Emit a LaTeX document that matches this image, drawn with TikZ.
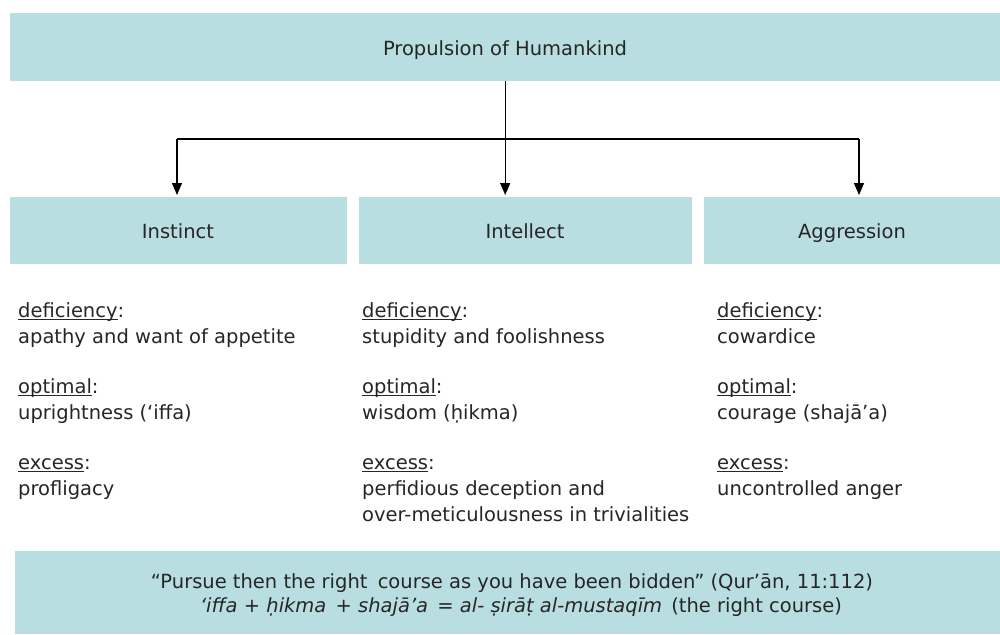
\documentclass[tikz,border=0pt]{standalone}
\usepackage{fontspec}
\setmainfont{DejaVu Sans}
\newcommand{\myul}[1]{\leavevmode\setbox0\hbox{#1}\rlap{\rule[-2.8pt]{\wd0}{1pt}}\box0}
\usetikzlibrary{arrows.meta}
\definecolor{boxc}{RGB}{184,222,225}
\definecolor{txtc}{RGB}{38,38,38}
\begin{document}
\begin{tikzpicture}[x=1pt,y=-1pt,
  panel/.style={fill=boxc, draw=none, inner sep=0pt, anchor=north west},
  txt/.style={font=\fontsize{19.5}{26}\selectfont, text=txtc, inner sep=0pt},
  conn/.style={line width=1.3pt, black},
  arr/.style={conn, -{Triangle[length=12pt,width=10pt]}}]
\useasboundingbox (0,0) rectangle (1000,634);
\fill[white] (0,0) rectangle (1000,634);
% panels
\node[panel, minimum width=990pt, minimum height=68pt] (top) at (10,13) {};
\node[panel, minimum width=337pt, minimum height=67pt] (instinct) at (10,197) {};
\node[panel, minimum width=333pt, minimum height=67pt] (intellect) at (359,197) {};
\node[panel, minimum width=296pt, minimum height=67pt] (aggression) at (704,197) {};
\node[panel, minimum width=985pt, minimum height=83pt] (bottom) at (15,551) {};
% titles
\node[txt, anchor=base] (ttop) at (505,56) {Propulsion of Humankind};
\node[txt, anchor=base] (tinst) at (178,238) {Instinct};
\node[txt, anchor=base] (tint) at (525,238) {Intellect};
\node[txt, anchor=base] (tagg) at (852,238) {Aggression};
% connectors
\coordinate (jl) at (177,139);
\coordinate (jr) at (859,139);
\draw[conn] (jl) -- (jr);
\draw[arr] (top.south) -- ([yshift=2pt]top.south |- intellect.north);
\draw[arr] (jl) -- ([yshift=2pt]jl |- instinct.north);
\draw[arr] (jr) -- ([yshift=2pt]jr |- aggression.north);
% left column
\node[txt, anchor=base west] (a1) at (18,317) {\myul{deficiency}:};
\node[txt, anchor=base west] (a2) at (18,343) {apathy and want of appetite};
\node[txt, anchor=base west] (a3) at (18,393) {\myul{optimal}:};
\node[txt, anchor=base west] (a4) at (18,419) {uprightness (‘iffa)};
\node[txt, anchor=base west] (a5) at (18,469) {\myul{excess}:};
\node[txt, anchor=base west] (a6) at (18,495) {profligacy};
% middle column
\node[txt, anchor=base west] (b1) at (362,317) {\myul{deficiency}:};
\node[txt, anchor=base west] (b2) at (362,343) {stupidity and foolishness};
\node[txt, anchor=base west] (b3) at (362,393) {\myul{optimal}:};
\node[txt, anchor=base west] (b4) at (362,419) {wisdom (ḥikma)};
\node[txt, anchor=base west] (b5) at (362,469) {\myul{excess}:};
\node[txt, anchor=base west] (b6) at (362,495) {perfidious deception and};
\node[txt, anchor=base west] (b7) at (362,521) {over-meticulousness in trivialities};
% right column
\node[txt, anchor=base west] (c1) at (717,317) {\myul{deficiency}:};
\node[txt, anchor=base west] (c2) at (717,343) {cowardice};
\node[txt, anchor=base west] (c3) at (717,393) {\myul{optimal}:};
\node[txt, anchor=base west] (c4) at (717,419) {courage (shajā’a)};
\node[txt, anchor=base west] (c5) at (717,469) {\myul{excess}:};
\node[txt, anchor=base west] (c6) at (717,495) {uncontrolled anger};
% bottom text
\node[txt, anchor=base] (q1) at (512,588) {“Pursue then the right\hspace{4pt} course as you have been bidden” (Qur’ān, 11:112)};
\node[txt, anchor=base] (q2) at (521,612) {\textit{‘iffa + ḥikma\hspace{3pt} + shajā’a\hspace{3pt} = al- ṣirāṭ al-mustaqīm}\hspace{3pt} (the right course)};
\end{tikzpicture}
\end{document}
